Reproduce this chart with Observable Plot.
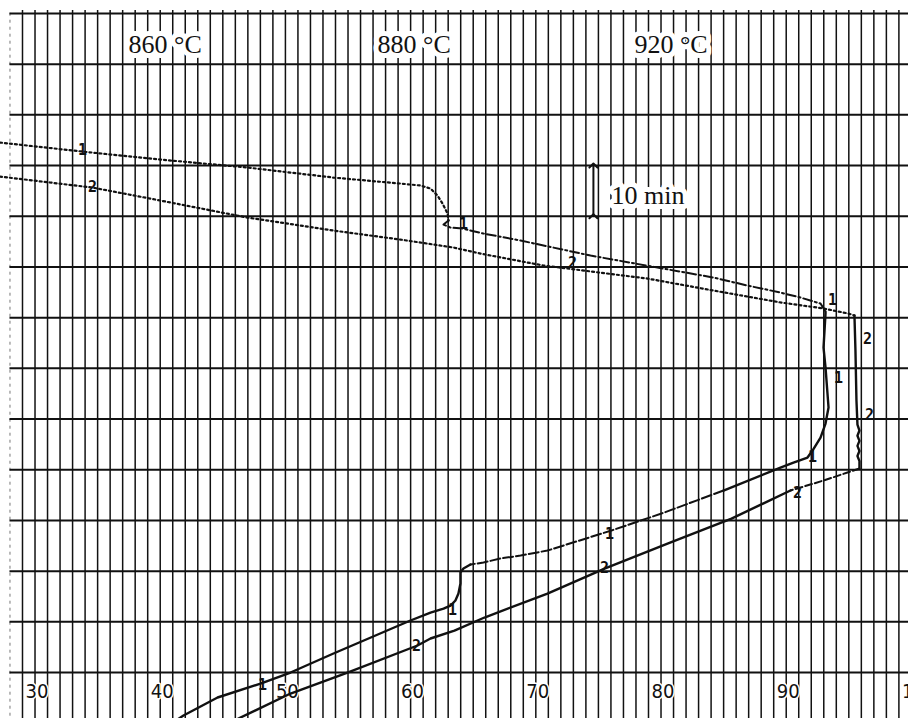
<!DOCTYPE html>
<html>
<head>
<meta charset="utf-8">
<script src="https://cdn.jsdelivr.net/npm/d3@7"></script>
<script src="https://cdn.jsdelivr.net/npm/@observablehq/plot@0.6"></script>
<style>
  body { margin: 0; background: #fff; }
  #chart svg { display: block; }
</style>
</head>
<body>
<div id="chart"></div>
<script>
// ---- data (x: recorder scale, y: time in minutes) ----
const xTickLabels = [30, 40, 50, 60, 70, 80, 90, 100];
const timeGrid = [0, 10, 20, 30, 40, 50, 60, 70, 80, 90, 100, 110, 120, 130];

const tempLabels = ["860 °C", "880 °C", "920 °C"];
const tempLabelX = [38.47, 58.36, 78.88];

const scaleBarLabel = "10 min";
const scaleBarTimes = [90, 100];

// curve 1
const curve1Dotted = [
  [28.2, 104.54], [34.79, 102.76], [41.02, 101.18], [47.97, 99.61], [54.84, 97.63],
  [60.19, 96.45], [61.79, 96.06], [62.59, 95.46], [63.15, 94.08], [63.55, 92.5],
  [63.95, 90.53], [64.03, 89.15]
];
const curve1DashDot = [
  [64.03, 89.15], [63.63, 88.36], [64.19, 87.77], [65.14, 87.57], [66.82, 86.59],
  [69.78, 85.21], [75.37, 82.25], [80.72, 79.88], [85.19, 77.91], [87.91, 76.33],
  [90.54, 74.95], [92.14, 73.96], [93.74, 72.78], [94.14, 71.2]
];
const curve1Hold = [
  [94.14, 71.2], [94.14, 70.81], [93.98, 64.1], [94.14, 60.16], [94.38, 52.27],
  [94.14, 49.11], [93.74, 46.35], [93.1, 43.79], [92.7, 42.41], [91.58, 41.42],
  [90.54, 40.43], [85.99, 35.9]
];
const curve1Dashed = [
  [85.99, 35.9], [81.04, 31.36], [77.04, 28.01], [71.93, 24.06], [69.78, 23.08],
  [68.18, 22.49], [66.82, 21.7], [65.78, 21.3]
];
const curve1Solid = [
  [65.78, 21.3], [65.22, 20.51], [64.98, 19.72], [64.98, 17.55], [64.82, 15.58],
  [64.58, 14.2], [64.19, 13.21], [63.63, 12.62], [62.59, 11.83], [60.99, 10.26],
  [54.84, 3.75], [51.41, 0], [49.01, -2.17], [45.58, -4.93], [42.86, -8.48], [42.3, -9.4]
];

// curve 2
const curve2Dotted = [
  [28.2, 97.83], [35.59, 95.66], [41.02, 93.1], [47.97, 89.74], [54.84, 87.18],
  [60.19, 85.4], [64.42, 83.83], [66.58, 82.64], [71.61, 80.28], [79.92, 77.71],
  [85.19, 75.35], [90.54, 73.0], [93.98, 71.81], [95.97, 70.81], [96.45, 70.41]
];
const curve2Hold = [
  [96.45, 70.41], [96.53, 63.51], [96.61, 53.65], [96.69, 48.9], [96.85, 47.73],
  [96.69, 46.7], [96.85, 45.7], [96.69, 44.7], [96.85, 43.7], [96.69, 42.7],
  [96.85, 41.7], [96.85, 40.24]
];
const curve2Dashed = [
  [96.85, 40.24], [95.89, 39.45], [93.98, 37.87], [91.34, 35.9]
];
const curve2Solid = [
  [91.34, 35.9], [86.63, 30.37], [81.52, 25.44], [76.49, 20.51], [71.93, 15.58],
  [66.9, 10.85], [64.5, 8.28], [62.59, 6.71], [61.55, 5.33], [55.96, 0],
  [51.41, -4.14], [47.41, -8.88], [46.93, -9.5]
];

// curve markers ("1" / "2") written along the traces
const curve1Marks = [
  [34.79, 102.96], [65.22, 88.36], [94.7, 73.37], [95.18, 57.99], [93.1, 42.41],
  [76.89, 27.22], [64.35, 12.23], [49.17, -2.56]
];
const curve2Marks = [
  [35.59, 95.66], [73.93, 80.67], [97.49, 65.68], [97.65, 50.69], [91.9, 35.31],
  [76.49, 20.51], [61.47, 5.13]
];

// ---- layout ----
const W = 908, H = 718;
const gridX = d3.range(30, 101);
const tickLabelTime = -5.1;
const tempLabelTime = 122.3;
const scaleBarX = 75.6;
const scaleBarLabelX = 77.04;
const scaleBarLabelTime = 92.5;

const ink = "#111";
const serif = "'Liberation Serif', 'DejaVu Serif', serif";
const narrow = "'Liberation Sans Narrow', 'DejaVu Sans Condensed', 'Liberation Sans', sans-serif";
const mono = "'DejaVu Sans Mono', 'Liberation Mono', monospace";

const lineOpts = (extra) => Object.assign({x: d => d[0], y: d => d[1], stroke: ink, strokeWidth: 2, curve: "linear"}, extra);

const chart = Plot.plot({
  width: W,
  height: H,
  margin: 0,
  x: {domain: [28.243, 100.767], axis: null},
  y: {domain: [-9.07, 132.56], axis: null},
  style: {background: "#fff"},
  marks: [
    // faint leftmost line
    Plot.ruleX([29], {y1: -10, y2: 130.6, stroke: "#777", strokeWidth: 1, strokeDasharray: "3,4"}),
    // vertical chart-paper lines
    Plot.ruleX(gridX, {y1: -10, y2: 130.6, stroke: ink, strokeWidth: 1.5}),
    // horizontal (time) lines
    Plot.ruleY(timeGrid, {x1: 29, x2: 101, stroke: ink, strokeWidth: 2}),

    // tick labels
    Plot.text(xTickLabels, {
      x: d => d, y: tickLabelTime, text: d => String(d), textAnchor: "start", lineAnchor: "bottom",
      dx: 3, fontSize: 20, fontFamily: narrow, fill: ink, stroke: "#fff", strokeWidth: 3
    }),

    // temperature labels with white halo
    Plot.text(tempLabels, {
      x: (d, i) => tempLabelX[i], y: tempLabelTime, text: d => d, textAnchor: "start", lineAnchor: "bottom",
      fontSize: 26, fontFamily: serif, fill: ink, stroke: "#fff", strokeWidth: 10
    }),

    // 10 min scale bar
    Plot.link([scaleBarTimes], {
      x1: scaleBarX, x2: scaleBarX, y1: d => d[0], y2: d => d[1],
      stroke: ink, strokeWidth: 2, markerStart: "arrow", markerEnd: "arrow"
    }),
    Plot.text([scaleBarLabel], {
      x: scaleBarLabelX, y: scaleBarLabelTime, text: d => d, textAnchor: "start", lineAnchor: "bottom",
      fontSize: 26, fontFamily: serif, fill: ink, stroke: "#fff", strokeWidth: 10
    }),

    // curve 1
    Plot.line(curve1Dotted, lineOpts({strokeDasharray: "2,3", strokeWidth: 2.2})),
    Plot.line(curve1DashDot, lineOpts({strokeDasharray: "9,3,2,3"})),
    Plot.line(curve1Hold, lineOpts({strokeWidth: 2.4})),
    Plot.line(curve1Dashed, lineOpts({strokeDasharray: "10,3"})),
    Plot.line(curve1Solid, lineOpts({strokeWidth: 2.4})),

    // curve 2
    Plot.line(curve2Dotted, lineOpts({strokeDasharray: "2,3", strokeWidth: 2.2})),
    Plot.line(curve2Hold, lineOpts({strokeWidth: 2.4})),
    Plot.line(curve2Dashed, lineOpts({strokeDasharray: "7,3"})),
    Plot.line(curve2Solid, lineOpts({strokeWidth: 2.4})),

    // curve number marks
    Plot.text(curve1Marks, {
      x: d => d[0], y: d => d[1], text: () => "1", fontSize: 15, fontWeight: "bold",
      fontFamily: mono, fill: ink
    }),
    Plot.text(curve2Marks, {
      x: d => d[0], y: d => d[1], text: () => "2", fontSize: 15, fontWeight: "bold",
      fontFamily: mono, fill: ink
    })
  ]
});

document.getElementById("chart").appendChild(chart);
</script>
</body>
</html>
